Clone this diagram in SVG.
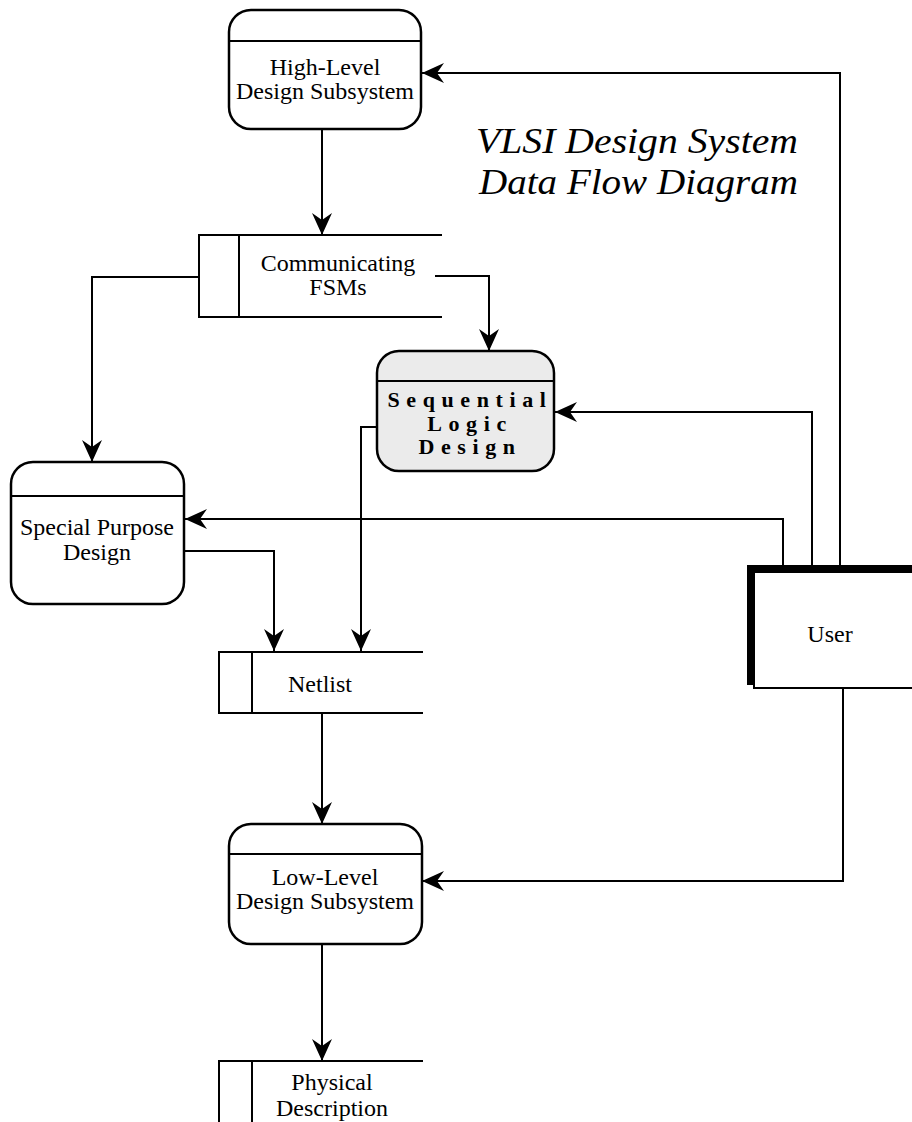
<svg xmlns="http://www.w3.org/2000/svg" width="912" height="1122" viewBox="0 0 912 1122">
<style>
.box{fill:#fff;stroke:#000;stroke-width:2.5}
.seq{fill:#ebebeb;stroke:#000;stroke-width:2.5}
.ln{fill:none;stroke:#000;stroke-width:2}
.conn{fill:none;stroke:#000;stroke-width:2}
.arr{marker-end:url(#ah)}
.t{font-family:"Liberation Serif","Times New Roman",serif;font-size:24px;text-anchor:middle;fill:#000}
.tb{font-family:"Liberation Serif","Times New Roman",serif;font-size:22px;font-weight:bold;letter-spacing:6.6px;text-anchor:middle;fill:#000}
.title{font-family:"Liberation Serif","Times New Roman",serif;font-size:36px;font-style:italic;fill:#000}
</style>
<defs>
<marker id="ah" viewBox="0 0 22 20" refX="22" refY="10" markerWidth="22" markerHeight="20" markerUnits="userSpaceOnUse" orient="auto">
<path d="M0,0 L22,10 L0,20 L7,10 Z" fill="#000"/>
</marker>
</defs>
<rect width="912" height="1122" fill="#fff"/>

<g id="connectors">
<path class="conn arr" d="M840,566 V73 H422"/>
<path class="conn arr" d="M322,129 V235"/>
<path class="conn arr" d="M199,277 H92 V462"/>
<path class="conn arr" d="M435,276 H489 V351"/>
<path class="conn arr" d="M812,566 V412 H555"/>
<path class="conn arr" d="M377,427 H361 V651"/>
<path class="conn arr" d="M783,566 V519 H185"/>
<path class="conn arr" d="M184,551 H274 V651"/>
<path class="conn arr" d="M322,713 V824"/>
<path class="conn arr" d="M843,688 V881 H422"/>
<path class="conn arr" d="M322,944 V1061"/>
</g>

<g id="title">
<text class="title" x="476" y="153" textLength="322" lengthAdjust="spacingAndGlyphs">VLSI Design System</text>
<text class="title" x="479" y="194" textLength="319" lengthAdjust="spacingAndGlyphs">Data Flow Diagram</text>
</g>

<g id="high-level">
<rect class="box" x="229" y="10" width="192" height="119" rx="22"/>
<line class="ln" x1="229" y1="41" x2="421" y2="41"/>
<text class="t" x="325" y="75">High-Level</text>
<text class="t" x="325" y="99">Design Subsystem</text>
</g>

<g id="fsms">
<path class="ln" d="M442,235 H199 V317 H442 M239,235 V317"/>
<text class="t" x="338" y="271">Communicating</text>
<text class="t" x="338" y="295">FSMs</text>
</g>

<g id="sequential">
<rect class="seq" x="377" y="351" width="177" height="120" rx="22"/>
<line class="ln" x1="377" y1="381" x2="554" y2="381"/>
<text class="tb" x="470" y="407">Sequential</text>
<text class="tb" x="470" y="431">Logic</text>
<text class="tb" x="470" y="454">Design</text>
</g>

<g id="special">
<rect class="box" x="11" y="462" width="173" height="142" rx="22"/>
<line class="ln" x1="11" y1="496" x2="184" y2="496"/>
<text class="t" x="97" y="535">Special Purpose</text>
<text class="t" x="97" y="560">Design</text>
</g>

<g id="netlist">
<path class="ln" d="M423,652 H219 V713 H423 M252,652 V713"/>
<text class="t" x="320" y="692">Netlist</text>
</g>

<g id="low-level">
<rect class="box" x="229" y="824" width="193" height="120" rx="22"/>
<line class="ln" x1="229" y1="854" x2="422" y2="854"/>
<text class="t" x="325" y="885">Low-Level</text>
<text class="t" x="325" y="909">Design Subsystem</text>
</g>

<g id="physical">
<path class="ln" d="M423,1061 H219 V1124 M252,1061 V1124"/>
<text class="t" x="332" y="1090">Physical</text>
<text class="t" x="332" y="1116">Description</text>
</g>

<g id="user">
<rect x="747" y="565" width="200" height="120" fill="#000"/>
<rect x="754" y="572" width="200" height="116" fill="#fff" stroke="#000" stroke-width="2"/>
<text class="t" x="830" y="642">User</text>
</g>
</svg>
